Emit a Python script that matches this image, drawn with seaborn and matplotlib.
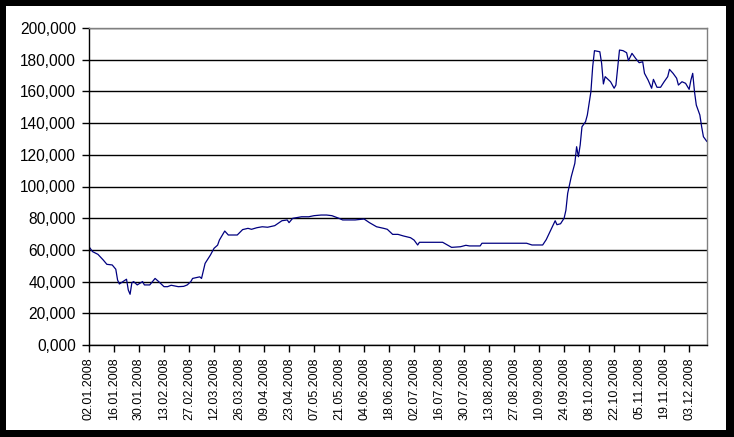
import seaborn as sns
import matplotlib.pyplot as plt
import matplotlib.patches as mpatches
import pandas as pd

sns.set_style("white")
plt.rcParams["font.family"] = ["Liberation Sans", "DejaVu Sans"]

# values (y axis shows 0,000 .. 200,000)
dates = [
    "02.01.2008", "04.01.2008", "07.01.2008", "10.01.2008", "12.01.2008", "15.01.2008",
    "17.01.2008", "18.01.2008", "19.01.2008", "21.01.2008", "23.01.2008", "24.01.2008",
    "25.01.2008", "26.01.2008", "27.01.2008", "29.01.2008", "01.02.2008", "02.02.2008",
    "05.02.2008", "08.02.2008", "10.02.2008", "13.02.2008", "15.02.2008", "17.02.2008",
    "21.02.2008", "24.02.2008", "26.02.2008", "28.02.2008", "29.02.2008", "04.03.2008",
    "05.03.2008", "07.03.2008", "10.03.2008", "12.03.2008", "14.03.2008", "15.03.2008",
    "18.03.2008", "20.03.2008", "25.03.2008", "28.03.2008", "31.03.2008", "02.04.2008",
    "05.04.2008", "08.04.2008", "11.04.2008", "15.04.2008", "19.04.2008", "22.04.2008",
    "23.04.2008", "25.04.2008", "30.04.2008", "04.05.2008", "07.05.2008", "11.05.2008",
    "14.05.2008", "17.05.2008", "21.05.2008", "23.05.2008", "30.05.2008", "04.06.2008",
    "07.06.2008", "11.06.2008", "15.06.2008", "17.06.2008", "20.06.2008", "23.06.2008",
    "26.06.2008", "30.06.2008", "02.07.2008", "04.07.2008", "05.07.2008", "11.07.2008",
    "18.07.2008", "20.07.2008", "23.07.2008", "28.07.2008", "31.07.2008", "02.08.2008",
    "08.08.2008", "09.08.2008", "15.08.2008", "21.08.2008", "29.08.2008", "03.09.2008",
    "06.09.2008", "12.09.2008", "14.09.2008", "17.09.2008", "19.09.2008", "20.09.2008",
    "22.09.2008", "24.09.2008", "25.09.2008", "26.09.2008", "28.09.2008", "30.09.2008",
    "01.10.2008", "02.10.2008", "03.10.2008", "04.10.2008", "06.10.2008", "07.10.2008",
    "09.10.2008", "10.10.2008", "11.10.2008", "14.10.2008", "15.10.2008", "16.10.2008",
    "17.10.2008", "20.10.2008", "22.10.2008", "23.10.2008", "25.10.2008", "27.10.2008",
    "29.10.2008", "30.10.2008", "01.11.2008", "03.11.2008", "05.11.2008", "07.11.2008",
    "08.11.2008", "10.11.2008", "12.11.2008", "13.11.2008", "15.11.2008", "17.11.2008",
    "19.11.2008", "21.11.2008", "22.11.2008", "24.11.2008", "26.11.2008", "27.11.2008",
    "29.11.2008", "01.12.2008", "03.12.2008", "04.12.2008", "05.12.2008", "06.12.2008",
    "07.12.2008", "09.12.2008", "10.12.2008", "11.12.2008", "13.12.2008",
]
values = [
    62.0, 58.9, 57.2, 53.6, 50.9, 50.5,
    47.8, 41.0, 38.5, 40.0, 41.5, 34.7,
    32.0, 39.3, 40.0, 37.9, 40.0, 37.9,
    37.9, 42.0, 40.0, 36.8, 36.8, 37.7,
    36.8, 37.0, 37.9, 40.0, 42.0, 43.0,
    42.0, 51.5, 56.8, 61.0, 63.0, 66.2,
    71.9, 69.4, 69.4, 72.8, 73.6, 73.0,
    74.0, 74.6, 74.3, 75.3, 78.4, 78.9,
    77.2, 79.9, 80.9, 80.9, 81.6, 82.0,
    82.0, 81.6, 79.9, 78.9, 78.9, 79.5,
    77.2, 74.6, 73.6, 73.0, 69.8, 69.8,
    68.8, 67.7, 66.2, 63.1, 64.8, 64.8,
    64.8, 63.5, 61.6, 62.0, 62.9, 62.5,
    62.5, 64.2, 64.2, 64.2, 64.2, 64.2,
    63.1, 63.1, 66.5, 73.6, 78.4, 75.9,
    76.5, 80.0, 85.0, 95.7, 106.2, 114.6,
    125.1, 118.8, 126.2, 137.7, 140.9, 145.1,
    159.8, 175.6, 185.7, 185.0, 177.7, 164.7,
    169.3, 166.1, 162.0, 164.0, 186.1, 185.7,
    184.4, 179.4, 184.0, 180.9, 178.1, 178.7,
    171.4, 167.2, 162.0, 167.6, 162.6, 162.6,
    166.1, 169.3, 173.9, 171.4, 168.3, 164.0,
    166.1, 165.1, 161.3, 167.2, 171.4, 159.8,
    151.4, 145.1, 137.7, 131.4, 128.3,
]
tick_labels = [
    "02.01.2008", "16.01.2008", "30.01.2008", "13.02.2008", "27.02.2008",
    "12.03.2008", "26.03.2008", "09.04.2008", "23.04.2008", "07.05.2008",
    "21.05.2008", "04.06.2008", "18.06.2008", "02.07.2008", "16.07.2008",
    "30.07.2008", "13.08.2008", "27.08.2008", "10.09.2008", "24.09.2008",
    "08.10.2008", "22.10.2008", "05.11.2008", "19.11.2008", "03.12.2008",
]
y_ticks = [0, 20, 40, 60, 80, 100, 120, 140, 160, 180, 200]

df = pd.DataFrame({"date": pd.to_datetime(dates, format="%d.%m.%Y"), "value": values})
ticks = pd.to_datetime(tick_labels, format="%d.%m.%Y")

fig = plt.figure(figsize=(7.34, 4.37), dpi=100)
fig.patch.set_facecolor("black")
# white chart area inside the black frame
fig.add_artist(mpatches.Rectangle((6 / 734, 7 / 437), 720 / 734, 424 / 437,
                                  transform=fig.transFigure, facecolor="white",
                                  edgecolor="none", zorder=0))

ax = fig.add_axes([89 / 734, 92 / 437, 618 / 734, 317 / 437])
ax.set_facecolor("white")

sns.lineplot(data=df, x="date", y="value", ax=ax, color="#000080", linewidth=0.9)

ax.set_xlim(df["date"].iloc[0], df["date"].iloc[-1])
ax.set_ylim(0, 200)
ax.set_yticks(y_ticks)
ax.set_yticklabels([f"{v:.3f}".replace(".", ",") for v in y_ticks], fontsize=11.2)
ax.set_xticks(ticks)
ax.set_xticklabels(tick_labels, rotation=90, fontsize=9)
ax.set_xlabel("")
ax.set_ylabel("")

ax.grid(axis="y", color="black", linewidth=1.0)
ax.grid(axis="x", visible=False)
ax.set_axisbelow(True)

for side in ["top", "right"]:
    ax.spines[side].set_visible(True)
    ax.spines[side].set_color("#808080")
    ax.spines[side].set_linewidth(1.0)
for side in ["left", "bottom"]:
    ax.spines[side].set_color("black")
    ax.spines[side].set_linewidth(1.0)

ax.tick_params(axis="both", which="major", direction="out", length=5, width=1,
               color="black", labelcolor="black", left=True, bottom=True)
ax.tick_params(axis="y", pad=4.5)
ax.tick_params(axis="x", pad=4)

fig.savefig("out.png", dpi=100, facecolor=fig.get_facecolor())
